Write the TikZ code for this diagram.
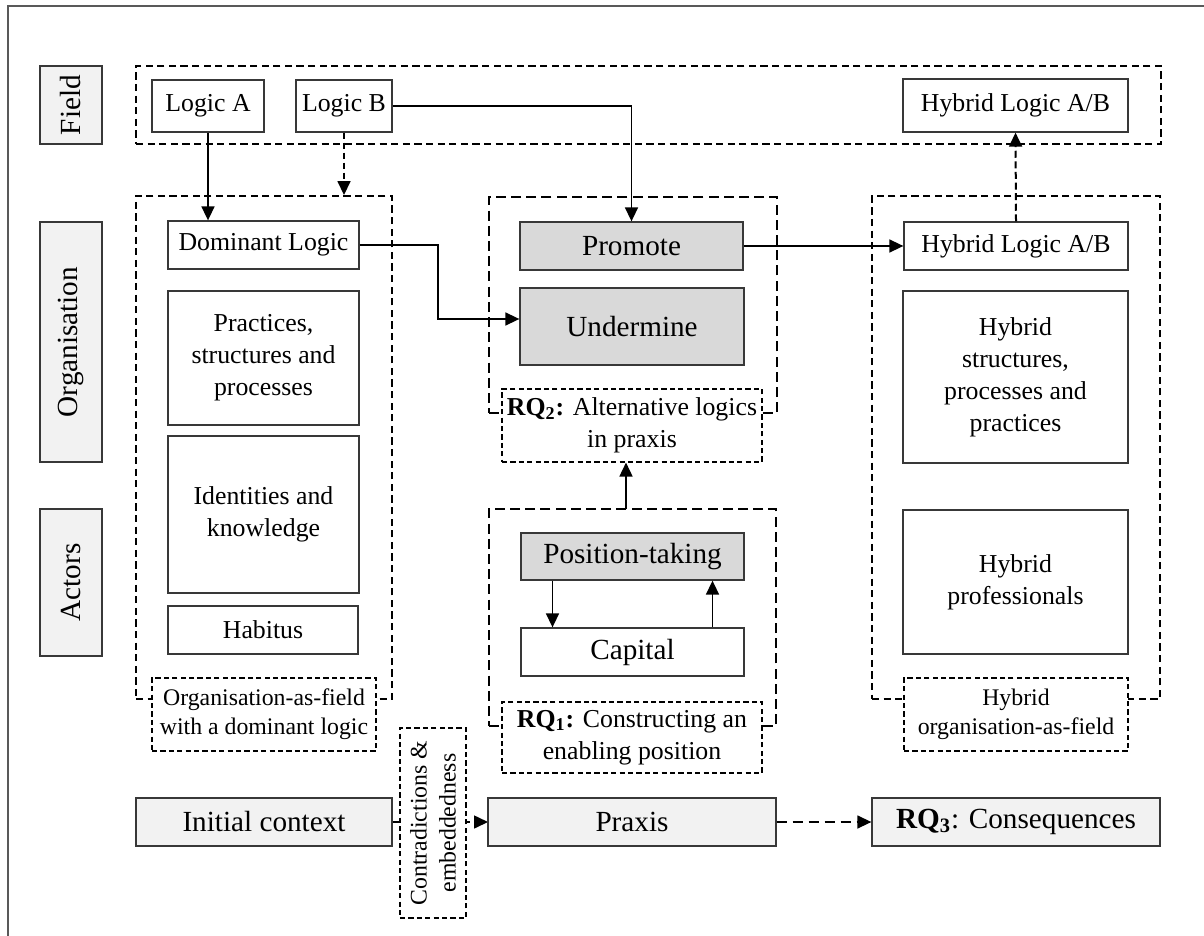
\documentclass[tikz,border=0pt]{standalone}
\usepackage{fontspec}
\setmainfont{Liberation Serif}
\usetikzlibrary{arrows.meta,fit}
\definecolor{lightg}{HTML}{F2F2F2}
\definecolor{midg}{HTML}{D9D9D9}
\newcommand\fL{\fontsize{14.6}{16}\selectfont}
\newcommand\fM{\fontsize{12.9}{16}\selectfont}
\newcommand\fS{\fontsize{11.9}{14.5}\selectfont}
\newcommand\rqn[1]{\textbf{RQ\textsubscript{#1}}}
\tikzset{
  bx/.style={draw=black!78, line width=0.65pt, inner sep=0pt, fill=white},
  lbl/.style={bx, fill=lightg},
  act/.style={bx, fill=midg},
  grp/.style={draw, line width=0.95pt, dash pattern=on 3.6pt off 2.2pt},
  grpb/.style={draw, line width=1.25pt, dash pattern=on 5pt off 2.6pt},
  note/.style={draw, fill=white, line width=0.55pt, dash pattern=on 2.6pt off 1.6pt, inner sep=0pt},
  noteb/.style={note, line width=0.8pt},
  txt/.style={inner sep=0pt, align=center},
  arr/.style={-{Triangle[length=7pt,width=6.5pt]}, line width=0.8pt},
  darr/.style={arr, dash pattern=on 3pt off 2pt},
}
\begin{document}
\begin{tikzpicture}[x=0.5pt,y=-0.5pt]
\useasboundingbox (0,0) rectangle (1204,936);
% outer frame (top and left edges)
\draw[black!65, line width=1pt] (8,936) -- (8,6) -- (1204,6);

% group containers
\node[grp, fit={(136,66) (1161,144)}, inner sep=0pt] (fieldC) {};
\node[grp, fit={(136,196) (392,699)}, inner sep=0pt] (orgL) {};
\node[grpb, fit={(489,197) (777,413)}, inner sep=0pt] (midTop) {};
\node[grpb, fit={(489,509) (776,726)}, inner sep=0pt] (midBot) {};
\node[grp, fit={(872,196) (1160,699)}, inner sep=0pt] (orgR) {};

% level labels
\node[lbl, fit={(40,66) (102,144)}] (fieldLbl) {};
\node[txt, rotate=90, font=\fL] (fieldTxt) at (fieldLbl) {Field};
\node[lbl, fit={(40,222) (102,462)}] (orgLbl) {};
\node[txt, rotate=90, font=\fL] (orgTxt) at (orgLbl) {Organisation};
\node[lbl, fit={(40,509) (102,656)}] (actLbl) {};
\node[txt, rotate=90, font=\fL] (actTxt) at (actLbl) {Actors};

% field level
\node[bx, fit={(152,80) (264,132)}] (logA) {};
\node[txt, font=\fM] (logATxt) at (logA) {Logic A};
\node[bx, fit={(296,80) (392,132)}] (logB) {};
\node[txt, font=\fM] (logBTxt) at (logB) {Logic B};
\node[bx, fit={(903,79) (1128,132)}] (hybField) {};
\node[txt, font=\fM] (hybFieldTxt) at (hybField) {Hybrid Logic A/B};

% organisation-as-field with a dominant logic
\node[bx, fit={(168,221) (359,269)}] (domL) {};
\node[txt, font=\fM] (domLTxt) at (domL) {Dominant Logic};
\node[bx, fit={(168,291) (359,425)}] (pract) {};
\node[txt, font=\fM] (practTxt) at (pract) {Practices,\\structures and\\processes};
\node[bx, fit={(168,436) (359,593)}] (ident) {};
\node[txt, font=\fM] (identTxt) at (ident) {Identities and\\knowledge};
\node[bx, fit={(168,606) (358,654)}] (habitus) {};
\node[txt, font=\fM] (habitusTxt) at (habitus) {Habitus};
\node[note, fit={(152,678) (376,751)}] (ofDom) {};
\node[txt, font=\fS] (ofDomTxt) at (ofDom) {Organisation-as-field\\with a dominant logic};

% praxis: logics and positions
\node[act, fit={(520,222) (743,270)}] (promote) {};
\node[txt, font=\fL] (promoteTxt) at (promote) {Promote};
\node[act, fit={(520,288) (744,365)}] (undermine) {};
\node[txt, font=\fL] (undermineTxt) at (undermine) {Undermine};
\node[note, fit={(502,389) (762,462)}] (rq2) {};
\node[txt, font=\fM] (rq2Txt) at (rq2) {\rqn{2}\textbf{:} Alternative logics\\in praxis};
\node[act, fit={(521,533) (744,580)}] (posTake) {};
\node[txt, font=\fL] (posTakeTxt) at (posTake) {Position-taking};
\node[bx, fit={(521,628) (744,676)}] (capital) {};
\node[txt, font=\fL] (capitalTxt) at (capital) {Capital};
\node[noteb, fit={(502,702) (762,773)}] (rq1) {};
\node[txt, font=\fM] (rq1Txt) at (rq1) {\rqn{1}\textbf{:} Constructing an\\enabling position};

% hybrid organisation-as-field
\node[bx, fit={(904,222) (1128,270)}] (hybOrg) {};
\node[txt, font=\fM] (hybOrgTxt) at (hybOrg) {Hybrid Logic A/B};
\node[bx, fit={(903,291) (1128,463)}] (hybStruct) {};
\node[txt, font=\fM] (hybStructTxt) at (hybStruct) {Hybrid\\structures,\\processes and\\practices};
\node[bx, fit={(903,510) (1128,654)}] (hybProf) {};
\node[txt, font=\fM] (hybProfTxt) at (hybProf) {Hybrid\\professionals};
\node[note, fit={(904,678) (1128,751)}] (hybOF) {};
\node[txt, font=\fS] (hybOFTxt) at (hybOF) {Hybrid\\organisation-as-field};

% process row
\coordinate (ctxOut) at (392,822);
\draw[darr, dash pattern=on 4pt off 3pt] (ctxOut) -- (488,822);
\node[lbl, fit={(136,798) (392,846)}] (init) {};
\node[txt, font=\fL] (initTxt) at (init) {Initial context};
\node[note, fit={(400,728) (466,918)}] (contra) {};
\node[txt, rotate=90, font=\fS] (contraTxt) at (contra) {Contradictions \&\\embeddedness};
\node[lbl, fit={(488,798) (776,846)}] (praxis) {};
\node[txt, font=\fL] (praxisTxt) at (praxis) {Praxis};
\node[lbl, fit={(872,798) (1160,846)}] (rq3) {};
\node[txt, font=\fL] (rq3Txt) at (rq3) {\rqn{3}: Consequences};
\draw[darr, dash pattern=on 5pt off 3pt, line width=0.7pt] (praxis.east) -- (rq3.west);

% connectors
\draw[arr] (logA.south) -- (logA.south |- domL.north);
\draw[darr] (logB.south) -- (logB.south |- orgL.north);
\draw[arr] (logB.east) -| (promote.north);
\coordinate (dbend) at (438,319);
\draw[arr] (domL.east) -| (dbend) -- (undermine.west |- dbend);
\draw[arr] (promote.east) -- (hybOrg.west);
\draw[darr, line width=1pt, dash pattern=on 3.5pt off 1.8pt] (hybOrg.north) -- (hybField.south);
\coordinate (upArr) at (626,509);
\draw[arr] (upArr) -- (upArr |- rq2.south);
\draw[arr] ([xshift=-40pt]posTake.south) -- ([xshift=-40pt]capital.north);
\draw[arr] ([xshift=40pt]capital.north) -- ([xshift=40pt]posTake.south);
\end{tikzpicture}
\end{document}
